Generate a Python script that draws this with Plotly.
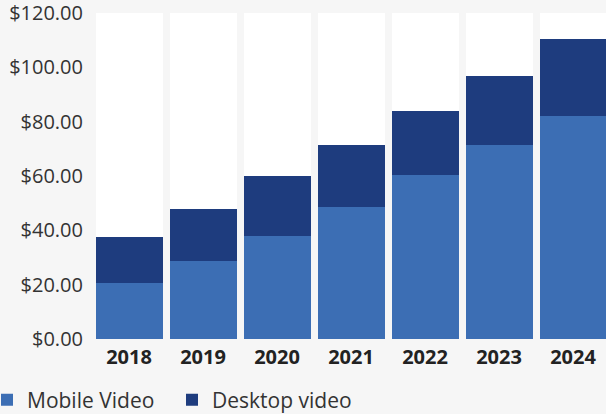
import plotly.graph_objects as go

years = ["2018", "2019", "2020", "2021", "2022", "2023", "2024"]
mobile_video = [20.6, 28.7, 37.9, 48.6, 60.4, 71.4, 82.1]
desktop_video = [16.9, 19.1, 22.1, 22.8, 23.5, 25.4, 28.3]
axis_max = 120
y_ticks = [0, 20, 40, 60, 80, 100, 120]

remainder = [axis_max - m - d for m, d in zip(mobile_video, desktop_video)]

W, H = 606, 414
ml, mr, mt, mb = 92, 0, 13, 75
plot_w = W - ml - mr
plot_h = H - mt - mb
step = 74.0

fig = go.Figure()
fig.add_trace(go.Bar(x=years, y=mobile_video, name="Mobile Video",
                     marker=dict(color="#3c6eb4", line=dict(width=0))))
fig.add_trace(go.Bar(x=years, y=desktop_video, name="Desktop video",
                     marker=dict(color="#1e3c7e", line=dict(width=0))))
fig.add_trace(go.Bar(x=years, y=remainder, name="bg", showlegend=False,
                     hoverinfo="skip",
                     marker=dict(color="#ffffff", line=dict(width=0))))

fig.update_layout(
    width=W, height=H,
    margin=dict(l=ml, r=mr, t=mt, b=mb, autoexpand=False),
    paper_bgcolor="#f6f6f6",
    plot_bgcolor="#f6f6f6",
    barmode="stack",
    bargap=7 / 74,
    font=dict(family="Open Sans, Lato, sans-serif", color="#333333"),
    xaxis=dict(
        type="category",
        range=[-0.5, -0.5 + plot_w / step],
        showgrid=False, zeroline=False, showline=False, ticks="",
        tickfont=dict(size=20, color="#222222", family="Open Sans, sans-serif", weight="bold"),
        ticklabelstandoff=4,
        automargin=False,
    ),
    yaxis=dict(
        range=[0, axis_max],
        tickvals=y_ticks,
        tickformat="$.2f",
        showgrid=False, zeroline=False, showline=False, ticks="",
        tickfont=dict(size=20, color="#333333"),
        ticklabelstandoff=8,
        ticklabeloverflow="allow",
        automargin=False,
    ),
    legend=dict(
        orientation="h",
        xref="paper", yref="paper",
        x=(-13 - ml) / plot_w, xanchor="left",
        y=-(400 - (H - mb)) / plot_h, yanchor="middle",
        font=dict(size=21, color="#333333"),
        bgcolor="rgba(0,0,0,0)",
        traceorder="normal",
        itemsizing="constant",
        entrywidth=140,
    ),
    showlegend=True,
)

fig.write_html("out.html")
